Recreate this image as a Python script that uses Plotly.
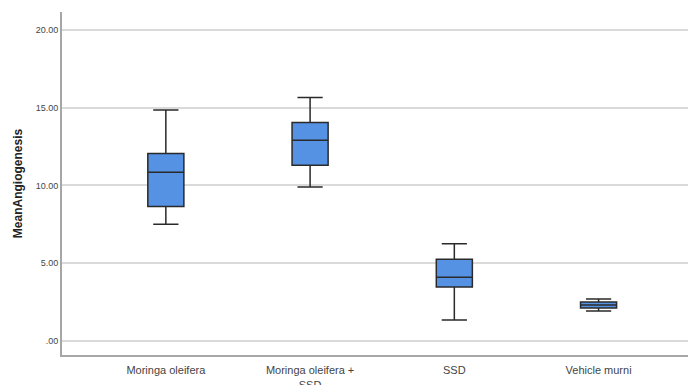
import plotly.graph_objects as go

categories = ["Moringa oleifera", "Moringa oleifera +<br>SSD", "SSD", "Vehicle murni"]
lower_whisker = [7.5, 9.9, 1.35, 1.93]
q1_vals = [8.65, 11.3, 3.47, 2.12]
median_vals = [10.85, 12.9, 4.1, 2.32]
q3_vals = [12.05, 14.05, 5.25, 2.5]
upper_whisker = [14.85, 15.65, 6.25, 2.7]
tick_vals = [0, 5, 10, 15, 20]
tick_text = [".00", "5.00", "10.00", "15.00", "20.00"]

fig = go.Figure()
fig.add_trace(go.Box(
    x=categories,
    q1=q1_vals, median=median_vals, q3=q3_vals,
    lowerfence=lower_whisker, upperfence=upper_whisker,
    fillcolor="#5592E4",
    line=dict(color="#2A2A2A", width=1.5),
    whiskerwidth=0.7,
    width=0.25,
    boxpoints=False,
    showlegend=False,
))

fig.update_layout(
    width=691, height=385,
    margin=dict(l=62, r=3, t=12, b=30),
    paper_bgcolor="white", plot_bgcolor="white",
    font=dict(family="Liberation Sans, Arial, sans-serif", color="#333333"),
    xaxis=dict(
        range=[-0.72, 3.62],
        showline=True, linecolor="#A6A6A6", linewidth=2,
        showgrid=False, ticks="", automargin=False,
        tickfont=dict(size=11, color="#444444"),
        ticklabelstandoff=4,
        fixedrange=True,
    ),
    yaxis=dict(
        range=[-0.9, 21.15],
        tickvals=tick_vals, ticktext=tick_text,
        showline=True, linecolor="#A6A6A6", linewidth=2,
        showgrid=True, gridcolor="#DADADA", gridwidth=1.5,
        zeroline=False, ticks="", automargin=False,
        tickfont=dict(size=9, color="#444444"),
        title=dict(text="<b>MeanAngiogenesis</b>", font=dict(size=12, color="#222222"), standoff=10),
    ),
)

fig.write_html("out.html", config={"displayModeBar": False},
               post_script="document.body.style.margin='0';document.body.style.overflow='hidden';")
